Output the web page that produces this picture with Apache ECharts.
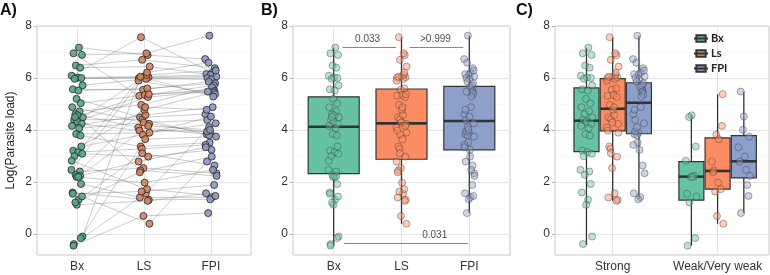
<!DOCTYPE html>
<html>
<head>
<meta charset="utf-8">
<script src="https://cdn.jsdelivr.net/npm/echarts@6/dist/echarts.min.js"></script>
<style>
  html, body { margin: 0; padding: 0; background: #fff; }
  #chart { width: 770px; height: 275px; }
</style>
</head>
<body>
<div id="chart"></div>
<script>
const grade = ['S','S','S','S','S','S','S','S','S','S','S','S','S','S','S','S','S','S','S','S',
               'S','S','S','S','S','S','S','S','S','S','S','S','S','S','S','S','S','S',
               'W','W','W','W','W','W','W','W','W','W','W','W'];
const bx  = [7.17, 6.95, 6.89, 6.48, 6.40, 6.09, 6.02, 6.00, 5.97, 5.72, 5.57, 5.52, 5.20, 5.03, 4.88, 4.72, 4.61, 4.49, 4.39, 4.33,
             4.24, 4.16, 4.07, 3.85, 3.79, 3.21, 3.15, 3.09, 3.00, 2.47, 2.41, 2.28, 1.93, 1.60, 1.32, 1.13, -0.09, -0.38,
             4.57, 4.50, 3.37, 2.82, 2.24, 2.20, 2.20, 1.55, 1.45, 1.22, -0.15, -0.44];
const ls  = [6.88, 5.32, 6.95, 6.70, 6.44, 7.57, 6.06, 6.03, 6.00, 5.97, 5.55, 5.60, 4.49, 5.35, 4.24, 4.97, 4.10, 6.12, 4.42, 5.27,
             3.98, 4.58, 4.29, 3.90, 3.37, 4.78, 3.28, 2.98, 5.90, 6.21, 2.54, 4.88, 1.41, 1.32, 3.11, 1.28, 6.05, 1.57,
             2.45, 5.38, 3.82, 1.73, 2.79, 1.98, 4.16, 1.64, 0.40, 2.38, 3.65, 0.70];
const fpi = [6.73, 5.57, 7.63, 6.38, 6.15, 6.21, 6.12, 6.06, 6.00, 5.95, 5.86, 5.80, 4.61, 5.72, 3.90, 5.65, 3.84, 6.29, 3.80, 5.50,
             3.95, 4.88, 4.39, 4.26, 3.52, 5.45, 3.43, 3.24, 5.38, 6.59, 2.34, 4.78, 1.42, 1.34, 2.64, 1.57, 5.29, 4.11,
             2.24, 5.48, 4.52, 1.47, 3.34, 2.47, 4.01, 1.89, 2.79, 2.98, 3.75, 0.81];

const methods = ['Bx', 'LS', 'FPI'];
const legendNames = ['Bx', 'Ls', 'FPI'];
const grades = ['Strong', 'Weak/Very weak'];
const yTicks = [0, 2, 4, 6, 8];
const yMinor = [1, 3, 5, 7];

// box stats: [min, q1, median, q3, max]
const boxAll    = [[-0.44, 2.33, 4.13, 5.28, 7.17], [0.40, 2.88, 4.26, 5.58, 7.57], [0.81, 3.24, 4.35, 5.68, 7.63]];
const boxStrong = [[-0.41, 3.17, 4.36, 5.62, 7.17], [1.28, 3.97, 4.82, 5.98, 7.57], [1.34, 3.86, 5.05, 5.82, 7.63]];
const boxWeak   = [[-0.44, 1.31, 2.21, 2.79, 4.57], [0.40, 1.73, 2.43, 3.70, 5.38], [0.81, 2.16, 2.80, 3.79, 5.48]];

// p-values: label, bracket from, bracket to, height, label x
const pLabels = ['0.033', '>0.999', '0.031'];
const pFrom   = [1.13, 2.12, 1.15];
const pTo     = [1.92, 2.91, 2.98];
const pY      = [7.2, 7.2, -0.35];
const pTextX  = [1.5, 2.5, 2.49];

// hand-typed horizontal jitter (unitless, -1..1)
const jit = [0.3,-0.6,0.8,-0.2,0.5,-0.9,0.1,0.7,-0.4,0.9,-0.7,0.2,-0.1,0.6,-0.8,0.4,-0.3,0.95,-0.5,0.0,
             0.75,-0.85,0.35,-0.15,0.55,-0.65,0.15,0.85,-0.45,-0.95,0.45,-0.25,0.65,-0.75,0.25,-0.05,0.9,-0.55,0.05,-0.35,
             0.7,-0.9,0.5,-0.1,0.2,-0.7,0.8,-0.3,0.6,-0.6];

const colors = ['#66C2A5', '#FC8D62', '#8DA0CB'];
const darkColors = ['#57a388', '#d4825f', '#8a98c0'];
const cols = [bx, ls, fpi];
const jitShift = [0, 13, 29];
const dodge = [-0.25, 0, 0.25];
const font = 'Liberation Sans, Arial, sans-serif';

function jx(m, i) {
    return jit[(i + jitShift[m]) % jit.length];
}

// grid lines (ggplot-like major/minor)
function gridLines(gi, xs) {
    let d = [];
    yTicks.forEach(v => d.push({yAxis: v, lineStyle: {color: '#e4e4e4', width: 1}}));
    yMinor.forEach(v => d.push({yAxis: v, lineStyle: {color: '#f2f2f2', width: 0.6}}));
    xs.forEach(v => d.push({xAxis: v, lineStyle: {color: '#e4e4e4', width: 1}}));
    return {
        type: 'line', xAxisIndex: gi, yAxisIndex: gi, data: [], silent: true,
        markLine: {silent: true, symbol: 'none', label: {show: false}, z: 1, animation: false,
            lineStyle: {type: 'solid'}, data: d}
    };
}

function boxRenderer(widthPx) {
    return function (params, api) {
        let x = api.value(0);
        let pMin = api.coord([x, api.value(1)]);
        let pQ1 = api.coord([x, api.value(2)]);
        let pMed = api.coord([x, api.value(3)]);
        let pQ3 = api.coord([x, api.value(4)]);
        let pMax = api.coord([x, api.value(5)]);
        let c = colors[api.value(6)];
        return {
            type: 'group', children: [
                {type: 'line', shape: {x1: pMin[0], y1: pMin[1], x2: pMax[0], y2: pMax[1]},
                    style: {stroke: '#333', lineWidth: 1.3}},
                {type: 'rect', shape: {x: pQ3[0] - widthPx / 2, y: pQ3[1], width: widthPx, height: pQ1[1] - pQ3[1]},
                    style: {fill: c, stroke: '#333', lineWidth: 1.2}},
                {type: 'line', shape: {x1: pMed[0] - widthPx / 2, y1: pMed[1], x2: pMed[0] + widthPx / 2, y2: pMed[1]},
                    style: {stroke: '#333', lineWidth: 2.6}}
            ]
        };
    };
}

function xAxisOf(gi, min, max, ticks, names) {
    return {
        gridIndex: gi, type: 'value', min: min, max: max,
        axisLine: {show: false}, splitLine: {show: false},
        axisTick: {show: true, customValues: ticks, length: 3, lineStyle: {color: '#b3b3b3'}},
        axisLabel: {customValues: ticks, formatter: v => names[Math.round(v) - 1],
            color: '#333', fontSize: 12, fontFamily: font, margin: 6}
    };
}
function yAxisOf(gi) {
    return {
        gridIndex: gi, type: 'value', min: -0.8, max: 8,
        axisLine: {show: false}, splitLine: {show: false},
        axisTick: {show: true, customValues: yTicks, length: 3, lineStyle: {color: '#b3b3b3'}},
        axisLabel: {customValues: yTicks, color: '#333', fontSize: 12, fontFamily: font, margin: 5}
    };
}

let series = [];

// ---- panel A ----
series.push(gridLines(0, [1, 2, 3]));
series.push({
    type: 'lines', coordinateSystem: 'cartesian2d', xAxisIndex: 0, yAxisIndex: 0,
    polyline: true, silent: true, z: 2,
    lineStyle: {color: 'rgba(85,85,85,0.6)', width: 1},
    data: bx.map((v, i) => ({coords: [[1 + jx(0, i) * 0.09, bx[i]], [2 + jx(1, i) * 0.09, ls[i]], [3 + jx(2, i) * 0.09, fpi[i]]]}))
});
cols.forEach((arr, m) => {
    series.push({
        type: 'scatter', xAxisIndex: 0, yAxisIndex: 0, symbolSize: 7, z: 3,
        itemStyle: {color: darkColors[m], opacity: 0.9, borderColor: '#262626', borderWidth: 0.9},
        data: arr.map((v, i) => [m + 1 + jx(m, i) * 0.09, v])
    });
});

// ---- panel B ----
series.push(gridLines(1, [1, 2, 3]));
series.push({
    type: 'custom', name: 'boxB', xAxisIndex: 1, yAxisIndex: 1, z: 2,
    renderItem: boxRenderer(51),
    data: boxAll.map((b, m) => [m + 1].concat(b).concat([m]))
});
cols.forEach((arr, m) => {
    series.push({
        type: 'scatter', xAxisIndex: 1, yAxisIndex: 1, symbolSize: 7, z: 3,
        itemStyle: {color: colors[m], opacity: 0.45, borderColor: '#333', borderWidth: 0.9},
        data: arr.map((v, i) => [m + 1 + jx(m, i) * 0.08, v])
    });
});
series.push({
    type: 'lines', coordinateSystem: 'cartesian2d', xAxisIndex: 1, yAxisIndex: 1, silent: true, z: 4,
    lineStyle: {color: '#111', width: 1},
    data: pLabels.map((t, k) => ({coords: [[pFrom[k], pY[k]], [pTo[k], pY[k]]]}))
});
series.push({
    type: 'scatter', xAxisIndex: 1, yAxisIndex: 1, symbolSize: 0, silent: true, z: 4,
    label: {show: true, position: 'top', distance: 3, formatter: p => p.value[2],
        color: '#222', fontSize: 10, fontFamily: font},
    data: pLabels.map((t, k) => [pTextX[k], pY[k], t])
});

// ---- panel C ----
series.push(gridLines(2, [1, 2]));
legendNames.forEach((name, m) => {
    series.push({
        type: 'custom', name: name, xAxisIndex: 2, yAxisIndex: 2, z: 2,
        itemStyle: {color: colors[m], borderColor: '#333', borderWidth: 1},
        renderItem: boxRenderer(25),
        data: [[1 + dodge[m]].concat(boxStrong[m]).concat([m]), [2 + dodge[m]].concat(boxWeak[m]).concat([m])]
    });
});
cols.forEach((arr, m) => {
    series.push({
        type: 'scatter', xAxisIndex: 2, yAxisIndex: 2, symbolSize: 7, z: 3,
        itemStyle: {color: colors[m], opacity: 0.45, borderColor: '#333', borderWidth: 0.9},
        data: arr.map((v, i) => [(grade[i] === 'S' ? 1 : 2) + dodge[m] + jx(m, i) * 0.06, v])
    });
});

let yA = yAxisOf(0);
yA.name = 'Log(Parasite load)';
yA.nameLocation = 'middle';
yA.nameGap = 20;
yA.nameTextStyle = {color: '#222', fontSize: 12, fontFamily: font};

const option = {
    animation: false,
    backgroundColor: '#fff',
    textStyle: {fontFamily: font},
    grid: [
        {left: 37, top: 26, width: 214, height: 229, show: true, borderColor: '#c8c8c8', borderWidth: 1, backgroundColor: 'transparent'},
        {left: 293, top: 26, width: 217, height: 229, show: true, borderColor: '#c8c8c8', borderWidth: 1, backgroundColor: 'transparent'},
        {left: 555, top: 26, width: 214, height: 229, show: true, borderColor: '#c8c8c8', borderWidth: 1, backgroundColor: 'transparent'}
    ],
    xAxis: [
        xAxisOf(0, 0.4, 3.6, [1, 2, 3], methods),
        xAxisOf(1, 0.4, 3.6, [1, 2, 3], methods),
        xAxisOf(2, 0.45, 2.49, [1, 2], grades)
    ],
    yAxis: [yA, yAxisOf(1), yAxisOf(2)],
    legend: {
        data: legendNames.map(n => ({name: n, icon: 'path://M0,0H20V14H0Z M-5,7H25'})),
        orient: 'vertical', left: 688, top: 28, itemWidth: 14, itemHeight: 10, itemGap: 4,
        selectedMode: false,
        textStyle: {color: '#222', fontSize: 11, fontWeight: 'bold', fontFamily: 'Lato, sans-serif', padding: [0, 0, 0, -2]}
    },
    graphic: [
        {type: 'text', left: 0, top: 3, style: {text: 'A)', font: 'bold 16px Liberation Sans, Arial', fill: '#111'}},
        {type: 'text', left: 261, top: 3, style: {text: 'B)', font: 'bold 16px Liberation Sans, Arial', fill: '#111'}},
        {type: 'text', left: 516, top: 3, style: {text: 'C)', font: 'bold 16px Liberation Sans, Arial', fill: '#111'}}
    ],
    series: series
};

let chart = echarts.init(document.getElementById('chart'));
chart.setOption(option);
</script>
</body>
</html>
